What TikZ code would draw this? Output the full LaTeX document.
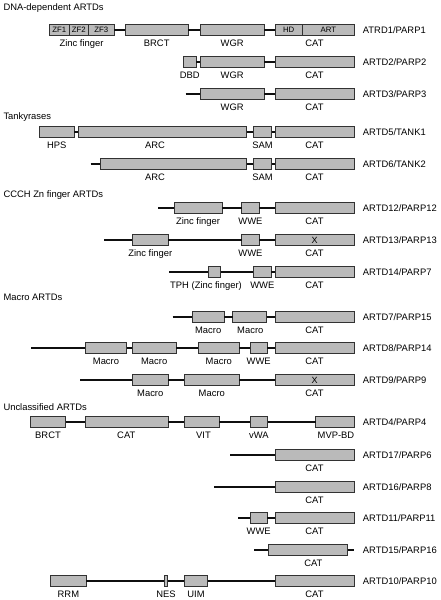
\documentclass[tikz,border=0pt]{standalone}
\usepackage{fontspec}
\setmainfont{Liberation Sans}
\definecolor{domfill}{RGB}{186,186,186}
\definecolor{domline}{RGB}{50,50,50}
\definecolor{linkc}{RGB}{15,15,15}
\tikzset{
  dombox/.style={draw=domline,fill=domfill,line width=0.9pt,minimum height=11.4pt,inner sep=0pt,outer sep=0pt,font=\fontsize{7.8}{8}\selectfont},
  link/.style={draw=linkc,line width=1.3pt},
  lab/.style={anchor=base,inner sep=0pt,font=\fontsize{9.4}{11}\selectfont},
  rlab/.style={anchor=base west,inner sep=0pt,font=\fontsize{9.4}{11}\selectfont},
  ttl/.style={anchor=base west,inner sep=0pt,font=\fontsize{9.4}{11}\selectfont}
}
% name, x1, x2, y, inner text
\newcommand\dm[5]{\node[dombox,minimum width={#3-#2}] (#1) at ({(#2+#3)/2},#4) {#5};}
% name, x, row y, text
\newcommand\dl[4]{\node[lab] (#1) at (#2,{#3+16}) {#4};}
\newcommand\rl[3]{\node[rlab] (#1) at (362.7,{#2+3.3}) {#3};}
\newcommand\tl[3]{\node[ttl] (#1) at (3.3,{#2+3.3}) {#3};}
\begin{document}
\begin{tikzpicture}[x=1pt,y=-1pt]
\useasboundingbox[fill=white] (0,0) rectangle (440,600);

% ---------- DNA-dependent ----------
\tl{t1}{6.7}{DNA-dependent ARTDs}
% PARP1
\dm{zf1}{49.3}{69.3}{30}{ZF1}
\dm{zf2}{69.3}{88.3}{30}{ZF2}
\dm{zf3}{88.3}{114.3}{30}{ZF3}
\dm{brct1}{125}{188.3}{30}{}
\dm{wgr1}{200}{264.3}{30}{}
\dm{hd1}{275}{302.3}{30}{HD}
\dm{art1}{302.3}{354.3}{30}{ART}
\draw[link] (zf3.east) -- (brct1.west);
\draw[link] (brct1.east) -- (wgr1.west);
\draw[link] (wgr1.east) -- (hd1.west);
\dl{l1a}{81.5}{30}{Zinc finger}
\dl{l1b}{156.7}{30}{BRCT}
\dl{l1c}{232.2}{30}{WGR}
\dl{l1d}{314.5}{30}{CAT}
\rl{r1}{30}{ATRD1/PARP1}
% PARP2
\dm{dbd2}{183}{196.3}{62}{}
\dm{wgr2}{200}{264.3}{62}{}
\dm{cat2}{275}{354.3}{62}{}
\draw[link] (dbd2.east) -- (wgr2.west);
\draw[link] (wgr2.east) -- (cat2.west);
\dl{l2a}{189.7}{62}{DBD}
\dl{l2b}{232.2}{62}{WGR}
\dl{l2c}{314.5}{62}{CAT}
\rl{r2}{62}{ARTD2/PARP2}
% PARP3
\coordinate (s3) at (185.7,94);
\dm{wgr3}{200}{264.3}{94}{}
\dm{cat3}{275}{354.3}{94}{}
\draw[link] (s3) -- (wgr3.west);
\draw[link] (wgr3.east) -- (cat3.west);
\dl{l3a}{232.2}{94}{WGR}
\dl{l3b}{314.5}{94}{CAT}
\rl{r3}{94}{ARTD3/PARP3}

% ---------- Tankyrases ----------
\tl{t2}{116.5}{Tankyrases}
% TANK1
\dm{hps5}{39.3}{74}{132}{}
\dm{arc5}{78.3}{246.7}{132}{}
\dm{sam5}{253.3}{271.7}{132}{}
\dm{cat5}{275}{354.3}{132}{}
\draw[link] (hps5.east) -- (arc5.west);
\draw[link] (arc5.east) -- (sam5.west);
\draw[link] (sam5.east) -- (cat5.west);
\dl{l5a}{56.7}{132}{HPS}
\dl{l5b}{155}{132}{ARC}
\dl{l5c}{262.5}{132}{SAM}
\dl{l5d}{314.5}{132}{CAT}
\rl{r5}{132}{ARTD5/TANK1}
% TANK2
\coordinate (s6) at (90.7,164);
\dm{arc6}{100}{246.7}{164}{}
\dm{sam6}{253.3}{271.7}{164}{}
\dm{cat6}{275}{354.3}{164}{}
\draw[link] (s6) -- (arc6.west);
\draw[link] (arc6.east) -- (sam6.west);
\draw[link] (sam6.east) -- (cat6.west);
\dl{l6a}{155}{164}{ARC}
\dl{l6b}{262.5}{164}{SAM}
\dl{l6c}{314.5}{164}{CAT}
\rl{r6}{164}{ARTD6/TANK2}

% ---------- CCCH Zn finger ----------
\tl{t3}{194}{CCCH Zn finger ARTDs}
% PARP12
\coordinate (s12) at (158.3,208);
\dm{zf12}{174}{222.3}{208}{}
\dm{wwe12}{241.7}{259.3}{208}{}
\dm{cat12}{275}{354.3}{208}{}
\draw[link] (s12) -- (zf12.west);
\draw[link] (zf12.east) -- (wwe12.west);
\draw[link] (wwe12.east) -- (cat12.west);
\dl{l12a}{198}{208}{Zinc finger}
\dl{l12b}{250.5}{208}{WWE}
\dl{l12c}{314.5}{208}{CAT}
\rl{r12}{208}{ARTD12/PARP12}
% PARP13
\coordinate (s13) at (104,240);
\dm{zf13}{132.3}{168.3}{240}{}
\dm{wwe13}{241.7}{259.3}{240}{}
\dm{cat13}{275}{354.3}{240}{\fontsize{9}{10}\selectfont X}
\draw[link] (s13) -- (zf13.west);
\draw[link] (zf13.east) -- (wwe13.west);
\draw[link] (wwe13.east) -- (cat13.west);
\dl{l13a}{150.3}{240}{Zinc finger}
\dl{l13b}{250.5}{240}{WWE}
\dl{l13c}{314.5}{240}{CAT}
\rl{r13}{240}{ARTD13/PARP13}
% PARP7
\coordinate (s7) at (169,272);
\dm{tph7}{208.3}{220.7}{272}{}
\dm{wwe7}{253.3}{271.3}{272}{}
\dm{cat7}{275}{354.3}{272}{}
\draw[link] (s7) -- (tph7.west);
\draw[link] (tph7.east) -- (wwe7.west);
\draw[link] (wwe7.east) -- (cat7.west);
\dl{l7a}{206}{272}{TPH (Zinc finger)}
\dl{l7b}{262.3}{272}{WWE}
\dl{l7c}{314.5}{272}{CAT}
\rl{r7}{272}{ARTD14/PARP7}

% ---------- Macro ----------
\tl{t4}{297.5}{Macro ARTDs}
% PARP15
\coordinate (s15) at (172.7,317);
\dm{m15a}{192.3}{224}{317}{}
\dm{m15b}{232.7}{266.7}{317}{}
\dm{cat15}{275}{354.3}{317}{}
\draw[link] (s15) -- (m15a.west);
\draw[link] (m15a.east) -- (m15b.west);
\draw[link] (m15b.east) -- (cat15.west);
\dl{l15a}{208.2}{317}{Macro}
\dl{l15b}{250.3}{317}{Macro}
\dl{l15c}{314.5}{317}{CAT}
\rl{r15}{317}{ARTD7/PARP15}
% PARP14
\coordinate (s14) at (31,348);
\dm{m14a}{85.3}{126.7}{348}{}
\dm{m14b}{132.3}{176}{348}{}
\dm{m14c}{198.3}{239.3}{348}{}
\dm{wwe14}{250}{267.3}{348}{}
\dm{cat14}{275}{354.3}{348}{}
\draw[link] (s14) -- (m14a.west);
\draw[link] (m14a.east) -- (m14b.west);
\draw[link] (m14b.east) -- (m14c.west);
\draw[link] (m14c.east) -- (wwe14.west);
\draw[link] (wwe14.east) -- (cat14.west);
\dl{l14a}{106}{348}{Macro}
\dl{l14b}{154.2}{348}{Macro}
\dl{l14c}{218.8}{348}{Macro}
\dl{l14d}{258.7}{348}{WWE}
\dl{l14e}{314.5}{348}{CAT}
\rl{r14}{348}{ARTD8/PARP14}
% PARP9
\coordinate (s9) at (80,380);
\dm{m9a}{132.3}{168.3}{380}{}
\dm{m9b}{184.3}{239.3}{380}{}
\dm{cat9}{275}{354.3}{380}{\fontsize{9}{10}\selectfont X}
\draw[link] (s9) -- (m9a.west);
\draw[link] (m9a.east) -- (m9b.west);
\draw[link] (m9b.east) -- (cat9.west);
\dl{l9a}{150.3}{380}{Macro}
\dl{l9b}{211.8}{380}{Macro}
\dl{l9c}{314.5}{380}{CAT}
\rl{r9}{380}{ARTD9/PARP9}

% ---------- Unclassified ----------
\tl{t5}{407.5}{Unclassified ARTDs}
% PARP4
\dm{brct4}{30}{65.7}{422}{}
\dm{cat4}{85}{168.3}{422}{}
\dm{vit4}{184.3}{219}{422}{}
\dm{vwa4}{250}{267.7}{422}{}
\dm{mvp4}{315.7}{354.3}{422}{}
\draw[link] (brct4.east) -- (cat4.west);
\draw[link] (cat4.east) -- (vit4.west);
\draw[link] (vit4.east) -- (vwa4.west);
\draw[link] (vwa4.east) -- (mvp4.west);
\dl{l4a}{48}{422}{BRCT}
\dl{l4b}{126.3}{422}{CAT}
\dl{l4c}{203.5}{422}{VIT}
\dl{l4d}{258.8}{422}{vWA}
\dl{l4e}{336}{422}{MVP-BD}
\rl{r4}{422}{ARTD4/PARP4}
% PARP6
\coordinate (s6b) at (230,455);
\dm{cat6b}{275}{354.3}{455}{}
\draw[link] (s6b) -- (cat6b.west);
\dl{l6ba}{314.5}{455}{CAT}
\rl{r6b}{455}{ARTD17/PARP6}
% PARP8
\coordinate (s8) at (214,487);
\dm{cat8}{275}{354.3}{487}{}
\draw[link] (s8) -- (cat8.west);
\dl{l8a}{314.5}{487}{CAT}
\rl{r8}{487}{ARTD16/PARP8}
% PARP11
\coordinate (s11) at (238.3,518);
\dm{wwe11}{250}{267.3}{518}{}
\dm{cat11}{275}{354.3}{518}{}
\draw[link] (s11) -- (wwe11.west);
\draw[link] (wwe11.east) -- (cat11.west);
\dl{l11a}{258.7}{518}{WWE}
\dl{l11b}{314.5}{518}{CAT}
\rl{r11}{518}{ARTD11/PARP11}
% PARP16
\coordinate (s16) at (254,550);
\coordinate (e16) at (354.3,550);
\dm{cat16}{268.3}{347.7}{550}{}
\draw[link] (s16) -- (cat16.west);
\draw[link] (cat16.east) -- (e16);
\dl{l16a}{313.3}{550}{CAT}
\rl{r16}{550}{ARTD15/PARP16}
% PARP10
\dm{rrm10}{50.7}{86}{581}{}
\dm{nes10}{164}{167.7}{581}{}
\dm{uim10}{184.3}{207.7}{581}{}
\dm{cat10}{275}{354.3}{581}{}
\draw[link] (rrm10.east) -- (nes10.west);
\draw[link] (nes10.east) -- (uim10.west);
\draw[link] (uim10.east) -- (cat10.west);
\dl{l10a}{68.4}{581}{RRM}
\dl{l10b}{166}{581}{NES}
\dl{l10c}{196}{581}{UIM}
\dl{l10d}{314.5}{581}{CAT}
\rl{r10}{581}{ARTD10/PARP10}
\end{tikzpicture}
\end{document}
